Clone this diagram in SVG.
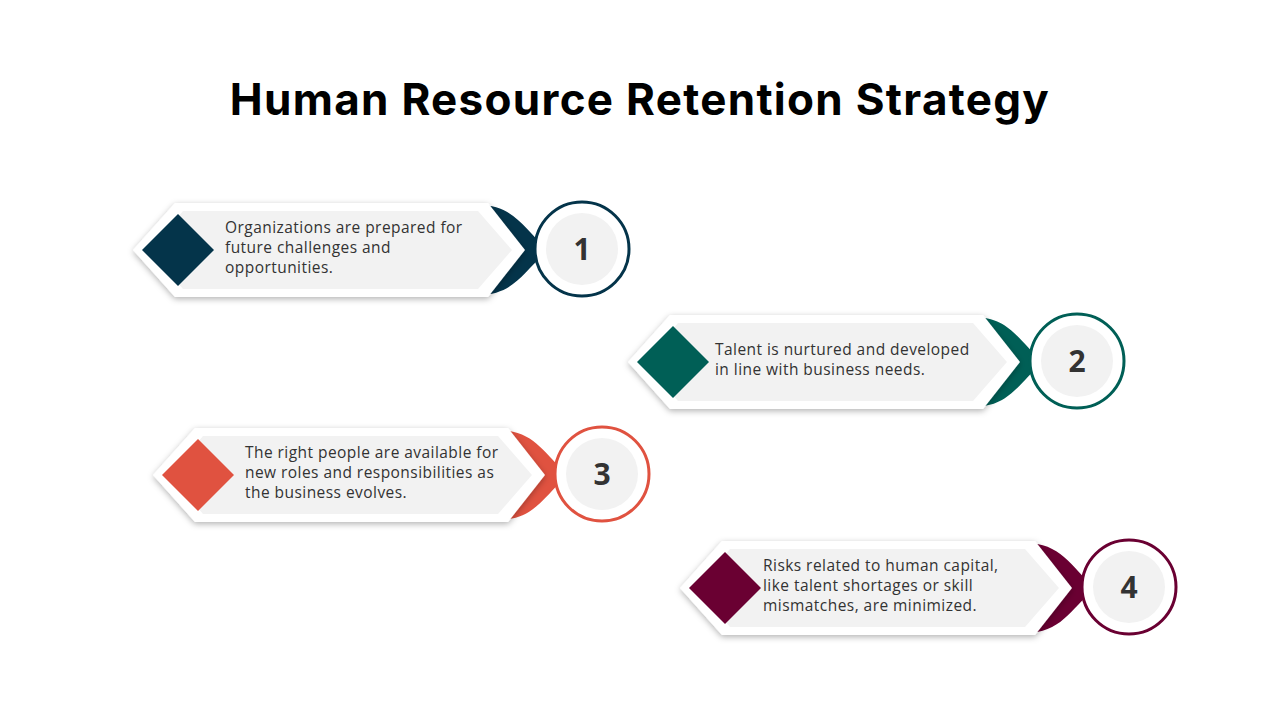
<svg xmlns="http://www.w3.org/2000/svg" width="1280" height="720" viewBox="0 0 1280 720">
<defs>
<filter id="sh" x="-10%" y="-20%" width="120%" height="150%"><feDropShadow dx="0" dy="2" stdDeviation="3" flood-color="#000" flood-opacity="0.3"/></filter>
<g id="card">
<path d="M465,206 C512,200 520,225 548,250 C520,275 512,300 465,294 Z" stroke="none"/>
<path d="M133,250 L175,203 L488,203 L525,250 L488,297 L175,297 Z" fill="#fff" stroke="none" filter="url(#sh)"/>
<path d="M150,250 L183,211 L478,211 L512,250 L478,289 L183,289 Z" fill="#f2f2f2" stroke="none"/>
<path d="M178,214 L214,250 L178,286 L142,250 Z" stroke="none"/>
<circle cx="582" cy="249" r="47" fill="#fff" stroke-width="3"/>
<circle cx="582" cy="249" r="36" fill="#f2f2f2" stroke="none"/>
</g>
</defs>
<style>
.t{font-family:"Open Sans","Liberation Sans",sans-serif;font-size:15.5px;letter-spacing:0.45px;fill:#333}
.n{font-family:"Open Sans","Liberation Sans",sans-serif;font-size:30px;font-weight:bold;fill:#333;text-anchor:middle}
</style>
<rect width="1280" height="720" fill="#fff"/>
<text x="640" y="115" text-anchor="middle" font-family="Inter,'Liberation Sans',sans-serif" font-size="44" letter-spacing="1.3" font-weight="bold" fill="#000">Human Resource Retention Strategy</text>
<g id="n1">
<use href="#card" fill="#04344a" stroke="#04344a"/>
<text class="t"><tspan x="225" y="233">Organizations are prepared for</tspan><tspan x="225" y="253">future challenges and</tspan><tspan x="225" y="273">opportunities.</tspan></text>
<text class="n" x="582" y="260">1</text>
</g>
<g id="n2" transform="translate(495,112)">
<use href="#card" fill="#005f56" stroke="#005f56"/>
<text class="t"><tspan x="220" y="243">Talent is nurtured and developed</tspan><tspan x="220" y="263">in line with business needs.</tspan></text>
<text class="n" x="582" y="260">2</text>
</g>
<g id="n3" transform="translate(20,225)">
<use href="#card" fill="#e05240" stroke="#e05240"/>
<text class="t"><tspan x="225" y="233">The right people are available for</tspan><tspan x="225" y="253">new roles and responsibilities as</tspan><tspan x="225" y="273">the business evolves.</tspan></text>
<text class="n" x="582" y="260">3</text>
</g>
<g id="n4" transform="translate(547,338)">
<use href="#card" fill="#6a0032" stroke="#6a0032"/>
<text class="t"><tspan x="216" y="233">Risks related to human capital,</tspan><tspan x="216" y="253">like talent shortages or skill</tspan><tspan x="216" y="273">mismatches, are minimized.</tspan></text>
<text class="n" x="582" y="260">4</text>
</g>
<g id="connectors"/>
</svg>
